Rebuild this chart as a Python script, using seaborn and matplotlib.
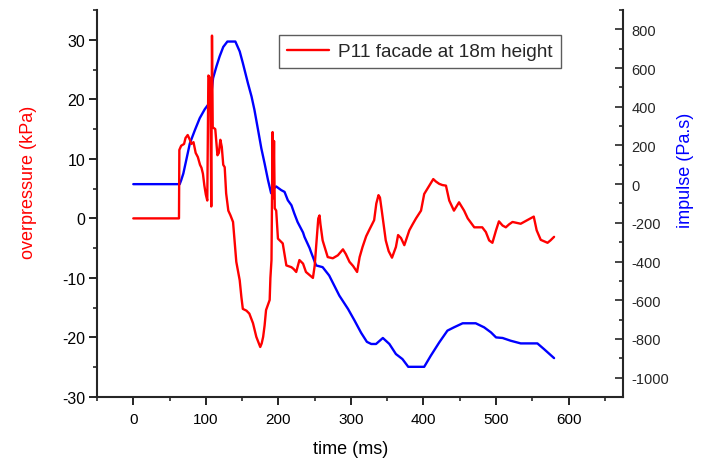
import numpy as np
import pandas as pd
import matplotlib
matplotlib.use("Agg")
import matplotlib.pyplot as plt
from matplotlib.ticker import MultipleLocator
from matplotlib.lines import Line2D
import seaborn as sns

# ---- data ----
p_time = [0, 63, 63.5, 66, 70, 72, 75, 78, 80, 83, 86, 89, 92, 94, 96, 98, 100, 102,
          103.5, 106, 107.5, 108.5, 109.5, 113, 116, 118, 120, 122, 124, 126, 128, 131,
          134, 137.5, 140, 142, 146.7, 149, 151, 156, 160, 165, 169.6, 173, 175, 177,
          179, 181, 183, 188, 189, 190.5, 192, 193, 194, 195, 197, 199.4, 206, 211, 218,
          221, 224.6, 229, 234, 238, 247.6, 250, 252, 255, 256.7, 258, 261, 268, 275,
          282, 289, 293, 298, 303, 308.5, 312, 316, 321, 325, 332, 335, 338, 340, 342.5,
          348, 352, 356.6, 362, 365, 369, 373.6, 380.5, 385, 389.7, 396.6, 401, 408,
          413.5, 417, 421.7, 426, 431, 435.5, 442, 449, 456, 461, 470, 481, 486, 490.5,
          495, 500, 504, 509, 513.5, 518, 522.7, 534, 543, 552, 556, 561.6, 571, 575, 580]
p_val = [0, 0, 11.5, 12.2, 12.5, 13.5, 14, 13.2, 12.5, 12.8, 11, 10.3, 9, 8.5, 7.5, 5.5, 4, 3,
         24, 23.5, 2, 30.7, 15.3, 15, 10.6, 11, 13.2, 12, 9, 8.6, 4.2, 1.3,
         0.5, -0.6, -4.2, -7.3, -10.4, -13.2, -15.2, -15.5, -16, -17.6, -19.9, -21, -21.6, -21,
         -19.9, -18, -15.4, -13.7, -10, -7, 14.5, 3.4, 13, 1.7, 1.3, -3.4, -4.2, -7.9, -8.2,
         -8.5, -9, -7, -7.6, -9, -10, -8, -4.8, 0, 0.5, -1, -3.7, -6.5, -6.7,
         -6.2, -5.2, -6, -7.3, -8, -9, -6.5, -4.8, -3, -2, -0.3, 2.5, 3.9, 3.5, 1.3,
         -3.7, -5.5, -6.6, -4.8, -2.8, -3.3, -4.5, -2, -1, 0, 1.3, 4.1, 5.5,
         6.6, 6.2, 5.8, 5.6, 5.5, 3, 1.3, 2.7, 1.3, 0, -1.5, -1.5, -2.3, -3.7,
         -4.1, -2, -0.5, -1.2, -1.5, -1, -0.6, -0.9, -0.3, 0.3, -2, -3.6, -4.1, -3.7, -3.1]

i_time = [0, 64, 66, 69, 73, 78, 85, 91.6, 98.5, 103, 105, 107.7, 110, 114.6, 119, 124,
          129.7, 140.7, 146.7, 151, 158, 163, 167, 172, 176.5, 181, 185.7, 190, 193, 197,
          204, 208.5, 213, 218, 222, 226.5, 234, 236, 243, 245, 252, 261, 270, 284, 296,
          305, 314, 322, 328, 334.6, 344, 353, 362, 371, 379, 401, 410, 421.7, 433, 442,
          454, 472, 483.6, 493, 500, 509, 520, 534, 557, 566, 580]
i_val = [0, 0, 20, 55, 124, 211, 280, 341, 387, 410, 419, 470, 548, 608, 660, 709,
         737, 737, 686, 626, 522, 453, 384, 280, 185, 107, 21, -47, -25, -12,
         -31, -40, -83, -109, -152, -196, -250, -273, -330, -351, -420, -429, -472, -576, -645,
         -705, -768, -815, -826, -826, -795, -826, -878, -904, -944, -944, -887, -818, -757, -740,
         -719, -719, -740, -766, -792, -795, -809, -823, -823, -852, -899]

x_ticks = [0, 100, 200, 300, 400, 500, 600]
x_tick_labels = ["0", "100", "200", "300", "400", "500", "600"]
legend_label = "P11 facade at 18m height"

df_p = pd.DataFrame({"time": p_time, "overpressure": p_val})
df_i = pd.DataFrame({"time": i_time, "impulse": i_val})

sns.set_style("ticks")
plt.rcParams["font.family"] = ["Liberation Sans", "DejaVu Sans"]
plt.rcParams["axes.unicode_minus"] = False

fig = plt.figure(figsize=(7.01, 4.60), dpi=100)
ax = fig.add_axes([97 / 701, 1 - 398 / 460, (623 - 97) / 701, (398 - 11) / 460])
ax2 = ax.twinx()

sns.lineplot(data=df_p, x="time", y="overpressure", ax=ax, color="#ff0000",
             linewidth=1.7, estimator=None, sort=False, legend=False)
sns.lineplot(data=df_i, x="time", y="impulse", ax=ax2, color="#0000ff",
             linewidth=1.7, estimator=None, sort=False, legend=False)
ax.set_zorder(ax2.get_zorder() + 1)
ax.patch.set_visible(False)

ax.set_xlim(-50, 675)
ax.set_ylim(-30, 35)
ax2.set_ylim(-1100, 900)

ax.set_xticks(x_ticks)
ax.set_xticklabels(x_tick_labels)
ax.xaxis.set_minor_locator(MultipleLocator(50))
ax.yaxis.set_major_locator(MultipleLocator(10))
ax.yaxis.set_minor_locator(MultipleLocator(5))
ax2.yaxis.set_major_locator(MultipleLocator(200))
ax2.yaxis.set_minor_locator(MultipleLocator(100))

for a in (ax, ax2):
    a.spines["top"].set_visible(False)
    for s in a.spines.values():
        s.set_linewidth(1.5)
ax.spines["right"].set_visible(False)
ax2.spines["left"].set_visible(False)
ax2.spines["bottom"].set_visible(False)

ax.tick_params(axis="both", which="major", direction="out", length=5.5, width=1.2,
               pad=3, colors="black")
ax.tick_params(axis="y", which="major", labelsize=11.5)
ax.tick_params(axis="x", which="major", labelsize=11, pad=5)
ax.tick_params(axis="both", which="minor", direction="out", length=3, width=1.2)
ax2.tick_params(axis="y", which="major", direction="in", length=6, width=1.2,
                labelsize=10.5, pad=6)
ax2.tick_params(axis="y", which="minor", direction="in", length=3, width=1.2)

ax.set_xlabel("time (ms)", fontsize=13, color="black")
ax.set_ylabel("overpressure (kPa)", fontsize=13, color="#ff0000")
ax2.set_ylabel("impulse (Pa.s)", fontsize=13, color="#0000ff")
ax.xaxis.set_label_coords(0.4816, -0.11)
ax.yaxis.set_label_coords(-0.114, 0.556)
ax2.yaxis.set_label_coords(1.102, 0.589)

handle = Line2D([0], [0], color="#ff0000", linewidth=1.7)
leg = ax.legend([handle], [legend_label], loc="upper left",
                bbox_to_anchor=((279 - 97) / 526, (398 - 36) / 387),
                fontsize=13.7, frameon=True, fancybox=False, handlelength=2.2,
                borderpad=0.42, handletextpad=0.5, borderaxespad=0)
leg.get_frame().set_edgecolor("#333333")
leg.get_frame().set_linewidth(1.0)

fig.savefig("out.png", dpi=100)
